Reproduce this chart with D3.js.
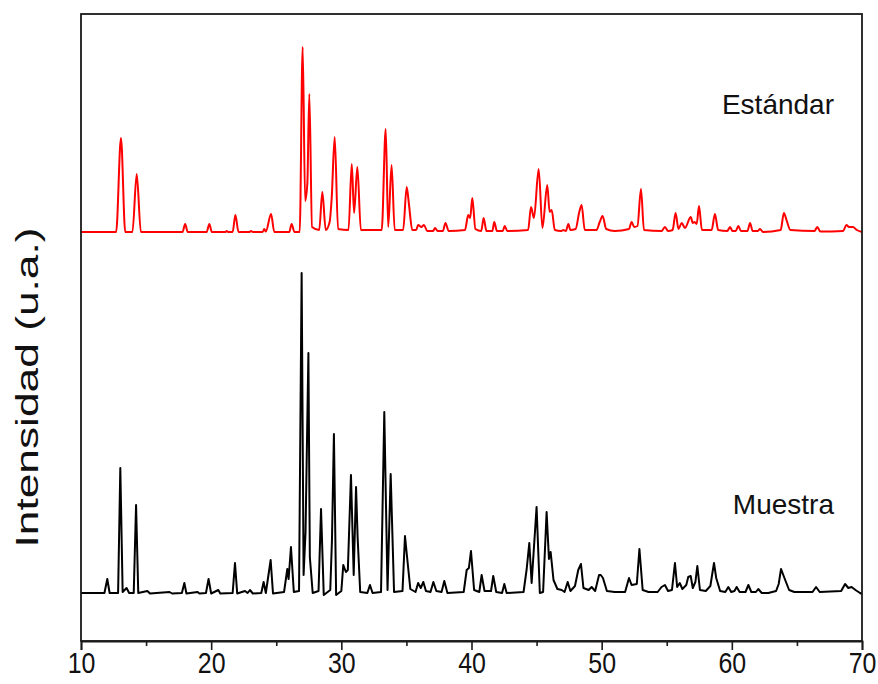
<!DOCTYPE html>
<html>
<head>
<meta charset="utf-8">
<script src="https://cdn.jsdelivr.net/npm/d3@7/dist/d3.min.js"></script>
<style>
  html, body { margin: 0; padding: 0; background: #fff; }
  text { font-family: "Liberation Sans", Arial, sans-serif; }
</style>
</head>
<body>
<svg id="chart" width="878" height="684"></svg>
<script>
// ---- Data (2θ in degrees, intensity in a.u. above each pattern's baseline) ----
const xTicks = [10, 20, 30, 40, 50, 60, 70];
const xMinorTicks = [15, 25, 35, 45, 55, 65];
const seriesLabels = ["Estándar", "Muestra"];
const seriesOffsets = [409, 47];   // vertical stacking offset (a.u.)

const stdAngle = [10, 12.7, 13.07, 13.4, 13.95, 14.28, 14.6, 17.8, 18.0, 18.2, 19.65, 19.86, 20.05, 21.1, 21.19, 21.3, 21.65, 21.86, 22.1, 22.95, 23.06, 23.2, 23.95, 24.08, 24.2, 24.6, 24.85, 26.0, 26.18, 26.4, 26.8, 27.03, 27.22, 27.39, 27.54, 27.75, 28.3, 28.54, 28.8, 29.1, 29.26, 29.49, 29.75, 30.55, 30.8, 30.98, 31.23, 31.5, 33.1, 33.41, 33.6, 33.86, 34.1, 34.75, 35.02, 35.2, 35.45, 35.75, 35.9, 36.15, 36.35, 36.6, 37.05, 37.2, 37.4, 37.8, 38.0, 38.25, 39.5, 39.75, 39.9, 40.06, 40.3, 40.75, 40.93, 41.15, 41.6, 41.75, 41.95, 42.4, 42.55, 42.75, 44.35, 44.57, 44.8, 45.16, 45.45, 45.82, 46.0, 46.16, 46.4, 46.9, 47.05, 47.25, 47.44, 47.6, 48.0, 48.28, 48.46, 48.7, 49.6, 49.85, 50.07, 50.35, 51.0, 52.1, 52.3, 52.5, 52.75, 53.02, 53.25, 54.6, 54.86, 55.1, 55.45, 55.68, 55.9, 56.15, 56.4, 56.84, 57.0, 57.12, 57.3, 57.48, 57.7, 58.45, 58.7, 58.95, 59.65, 59.86, 60.05, 60.3, 60.5, 60.7, 61.2, 61.4, 61.6, 62.0, 62.16, 62.4, 63.75, 64.0, 64.2, 64.5, 66.35, 66.56, 66.8, 68.55, 68.8, 69.0, 69.3, 69.6, 70];
const stdInt = [0, 0, 94, 0, 0, 58, 0, 0, 8, 0, 0, 8, 0, 0, 1, 0, 0, 17, 0, 0, 1, 0, 0, 3, 0.5, 18, 0, 0, 8, 0, 0, 185, 31, 49, 138, 5, 2, 40, 2, 10, 34, 95, 3, 2, 68, 19, 65, 2, 2, 103, 5, 67, 2, 2, 45, 27, 2, 2, 7, 5, 7, 1, 1, 4, 1, 1, 9, 1, 2, 17, 14, 34, 3, 1, 14, 1, 1, 10, 1, 1, 6, 1, 2, 25, 14, 63, 4, 47, 20, 22, 2, 1, 2, 1, 8, 2, 3, 20, 27, 2, 2, 10, 16, 3, 1, 3, 10, 5, 6, 43, 2, 1, 5, 1, 2, 19, 3, 9, 4, 15, 9, 10, 8, 26, 2, 2, 18, 2, 1, 5, 1, 1, 6, 1, 1, 9, 1, 1, 3, 0, 2, 19, 12, 2, 1, 5, 0.5, 1, 7, 5, 5, 2, 0];

const muestraAngle = [10, 11.8, 12.02, 12.2, 12.85, 13.02, 13.2, 13.5, 13.7, 14.05, 14.23, 14.4, 15.1, 15.3, 16.8, 17.0, 17.75, 17.94, 18.1, 18.96, 19.1, 19.6, 19.8, 20.0, 20.55, 20.7, 21.65, 21.83, 22.0, 22.6, 22.8, 22.98, 23.2, 23.85, 24.03, 24.2, 24.57, 24.75, 25.6, 25.85, 25.95, 26.13, 26.35, 26.75, 26.95, 27.1, 27.25, 27.47, 27.58, 27.8, 28.25, 28.44, 28.65, 29.15, 29.28, 29.43, 29.6, 30.0, 30.15, 30.35, 30.5, 30.74, 30.95, 31.13, 31.25, 31.45, 32.0, 32.2, 32.4, 33.05, 33.3, 33.55, 33.79, 34.05, 34.7, 34.89, 35.05, 35.3, 35.7, 35.9, 36.1, 36.3, 36.5, 36.85, 37.07, 37.3, 37.7, 37.91, 38.15, 39.4, 39.63, 39.8, 39.96, 40.2, 40.6, 40.78, 41.0, 41.5, 41.67, 41.9, 42.35, 42.52, 42.7, 44.0, 44.24, 44.44, 44.62, 45.0, 45.25, 45.5, 45.77, 45.95, 46.08, 46.3, 46.6, 46.93, 47.15, 47.39, 47.6, 47.95, 48.2, 48.41, 48.6, 49.0, 49.23, 49.5, 49.8, 49.93, 50.1, 50.4, 51.0, 51.8, 52.1, 52.3, 52.7, 52.9, 53.15, 53.6, 54.3, 54.6, 54.86, 55.1, 55.4, 55.63, 55.8, 56.0, 56.2, 56.5, 56.65, 56.84, 57.0, 57.2, 57.35, 57.55, 58.0, 58.35, 58.63, 58.8, 59.1, 59.5, 59.73, 59.95, 60.2, 60.37, 60.6, 61.05, 61.27, 61.5, 61.85, 62.03, 62.3, 62.8, 63.4, 63.6, 63.78, 64.1, 64.4, 64.8, 66.2, 66.47, 66.75, 68.4, 68.7, 68.95, 69.2, 69.5, 69.85, 70];
const muestraInt = [1, 1, 15, 1, 1, 126, 2, 6, 1, 1, 89, 1, 3, 0.5, 2, 0.5, 1, 11, 0.5, 2, 0.5, 1, 15, 0.5, 4, 0.5, 1, 31, 0.5, 3, 1, 4, 0.5, 1, 12, 1, 34, 0.5, 2, 25, 15, 47, 2, 3, 321, 19, 62, 241, 37, 1, 3, 85, -1, 4, 54, 160, -1, 3, 29, 22, 24, 119, 19, 107, 57, 2, 1, 9, 1, 2, 182, 4, 120, 2, 3, 58, 37, 5, 2, 11, 6, 12, 3, 2, 12, 3, 2, 13, 1, 2, 24, 26, 43, 4, 2, 19, 3, 3, 18, 2, 1, 10, 1, 2, 25, 51, 11, 87, 1, 2, 82, 35, 42, 14, 5, 4, 2, 12, 3, 8, 24, 30, 6, 4, 7, 3, 19, 19, 16, 3, 2, 2, 16, 9, 10, 45, 4, 2, 2, 7, 9, 3, 4, 31, 7, 11, 5, 9, 17, 18, 6, 12, 28, 4, 3, 8, 31, 16, 3, 2, 7, 2, 3, 7, 2, 2, 9, 2, 2, 5, 1, 1, 3, 10, 25, 14, 4, 2, 2, 7, 2, 3, 10, 6, 7, 4, 1, 0];

// ---- Layout ----
const svg = d3.select("#chart");
const margin = { left: 81, right: 16, top: 14, bottom: 43 };
const W = 878, H = 684;
const x = d3.scaleLinear().domain([10, 70]).range([margin.left, W - margin.right]);
const y = d3.scaleLinear().domain([0, 627]).range([H - margin.bottom, margin.top]);

const stdData = stdAngle.map((a, i) => [a, stdInt[i] + seriesOffsets[0]]);
const muData = muestraAngle.map((a, i) => [a, muestraInt[i] + seriesOffsets[1]]);

svg.append("path")
  .datum(muData)
  .attr("d", d3.line().x(d => x(d[0])).y(d => y(d[1])).curve(d3.curveLinear))
  .attr("fill", "none")
  .attr("stroke", "#000")
  .attr("stroke-width", 2)
  .attr("stroke-linejoin", "round");

svg.append("path")
  .datum(stdData)
  .attr("d", d3.line().x(d => x(d[0])).y(d => y(d[1])).curve(d3.curveMonotoneX))
  .attr("fill", "none")
  .attr("stroke", "#ff0000")
  .attr("stroke-width", 2)
  .attr("stroke-linejoin", "round");

// ---- Frame ----
svg.append("rect")
  .attr("x", x(10)).attr("y", y(627))
  .attr("width", x(70) - x(10)).attr("height", y(0) - y(627))
  .attr("fill", "none").attr("stroke", "#1a1a1a").attr("stroke-width", 1.8);

// ---- X axis ----
const xAxis = d3.axisBottom(x).tickValues(xTicks).tickSize(9).tickPadding(2).tickFormat(d3.format("d"));
const gx = svg.append("g").attr("transform", `translate(0,${y(0)})`).call(xAxis);
gx.select(".domain").attr("stroke", "#1a1a1a").attr("stroke-width", 1.8);
gx.selectAll(".tick line").attr("stroke", "#1a1a1a").attr("stroke-width", 1.6);
gx.selectAll(".tick text")
  .attr("fill", "#111")
  .attr("transform", "scale(0.86,1)")
  .style("font-size", "29px")
  .style("font-family", "'Liberation Sans', Arial, sans-serif");

const gxm = svg.append("g").attr("transform", `translate(0,${y(0)})`)
  .call(d3.axisBottom(x).tickValues(xMinorTicks).tickSize(5).tickFormat(""));
gxm.select(".domain").remove();
gxm.selectAll(".tick line").attr("stroke", "#1a1a1a").attr("stroke-width", 1.6);

// ---- Labels ----
svg.append("text")
  .attr("transform", `translate(38,${(y(0) + y(627)) / 2 + 60}) rotate(-90)`)
  .attr("text-anchor", "middle")
  .style("font-size", "31px")
  .attr("textLength", 320)
  .attr("lengthAdjust", "spacingAndGlyphs")
  .attr("fill", "#111")
  .text("Intensidad (u.a.)");

svg.append("text")
  .attr("x", 834).attr("y", 114)
  .attr("text-anchor", "end")
  .style("font-size", "28px")
  .attr("fill", "#111")
  .text(seriesLabels[0]);

svg.append("text")
  .attr("x", 834).attr("y", 514)
  .attr("text-anchor", "end")
  .style("font-size", "28px")
  .attr("fill", "#111")
  .text(seriesLabels[1]);
</script>
</body>
</html>
